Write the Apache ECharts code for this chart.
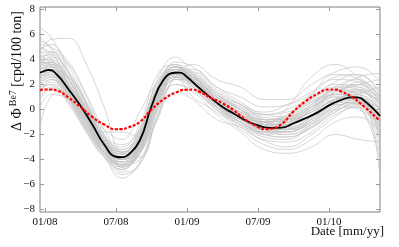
<!DOCTYPE html>
<html><head><meta charset="utf-8">
<script src="https://cdn.jsdelivr.net/npm/echarts@6/dist/echarts.min.js"></script>
<style>html,body{margin:0;padding:0;background:#fff}#c{width:399px;height:247px}</style>
</head><body><div id="c"></div>
<script>
// x values are months since 01/2008
const tickMonths = [0, 6, 12, 18, 24];
const tickLabels = ['01/08', '07/08', '01/09', '07/09', '01/10'];
const yTicks = [-8, -6, -4, -2, 0, 2, 4, 6, 8];

const blackMonths = [-0.42, 0, 0.3, 1, 2, 3, 4, 5, 6, 6.5, 7, 8, 9, 10, 11, 11.4, 12, 13, 14, 15, 16, 17, 18, 19, 20, 21, 22, 23, 24, 25, 26, 26.5, 27, 28, 28.3];
const blackValues = [2.94, 3.1, 3.16, 2.8, 1.6, 0.3, -1.2, -2.8, -3.78, -3.82, -3.65, -2.5, 0.26, 2.36, 2.94, 2.95, 2.6, 1.75, 0.95, 0.2, -0.36, -0.9, -1.27, -1.47, -1.45, -1.1, -0.7, -0.25, 0.33, 0.76, 0.98, 0.95, 0.68, -0.2, -0.52];

const redMonths = [-0.42, 0, 0.5, 1, 2, 3, 4, 5, 6, 6.5, 7, 8, 9, 10, 11, 12, 12.5, 13, 14, 15, 16, 17, 18, 18.5, 19, 20, 21, 22, 23, 24, 24.5, 25, 26, 27, 28, 28.3];
const redValues = [1.55, 1.6, 1.6, 1.52, 0.95, 0.2, -0.6, -1.2, -1.58, -1.57, -1.45, -1.0, 0.0, 0.8, 1.34, 1.58, 1.58, 1.45, 0.95, 0.5, -0.1, -0.85, -1.4, -1.58, -1.55, -1.15, -0.15, 0.65, 1.25, 1.6, 1.6, 1.45, 0.95, 0.2, -0.65, -0.9];

const grayMonths = [-0.42, 0.5, 2, 3.5, 5, 6.5, 8, 9.5, 11, 12.5, 14.5, 16.5, 18.5, 20.5, 22.5, 24.5, 26.5, 28.3];
const gray01 = [6.5, 5.8, 3.0, -0.5, -3.5, -4.8, -2.8, 1.8, 3.6, 2.8, 0.8, -0.6, -1.6, -1.8, -0.8, 0.6, 1.5, 0.2];
const gray02 = [-1.4, 1.0, 1.5, 0.2, -1.8, -1.8, -2.2, 0.6, 2.4, 2.2, 0.8, -0.2, -0.8, -0.6, 0.2, 1.0, 0.8, -2.0];
const gray03 = [4.5, 5.6, 5.7, 3.6, 0.2, -3.5, -3.8, -0.5, 2.6, 3.0, 1.6, 0.4, -0.8, -1.5, -1.0, 0.8, 2.2, 1.5];
const gray04 = [3.5, 3.8, 2.0, -0.8, -3.2, -4.5, -3.2, 1.0, 3.2, 2.4, 0.4, -1.0, -2.0, -2.2, -1.5, -0.2, 0.5, -1.0];
const gray05 = [1.5, 2.2, 0.8, -1.2, -3.0, -3.5, -1.5, 2.0, 3.2, 2.0, 0.2, -1.2, -1.8, -1.2, 0.2, 1.5, 1.2, -0.8];
const gray06 = [5.0, 4.5, 2.5, -0.2, -2.8, -4.2, -3.6, 0.2, 3.0, 3.2, 1.8, 0.6, -0.4, -0.6, 0.4, 1.8, 2.4, 1.0];
const gray07 = [2.5, 3.0, 1.0, -1.5, -3.6, -5.2, -4.4, -0.8, 1.4, 0.8, -0.8, -1.4, -2.5, -3.0, -2.0, -0.6, 0.4, -1.5];
const gray08 = [3.2, 3.4, 2.2, 0.0, -2.4, -3.4, -2.0, 1.8, 3.4, 2.4, 0.8, -0.4, -1.0, -0.4, 0.8, 1.8, 1.6, 0.0];
const gray09 = [4.0, 3.5, 1.0, -1.8, -3.8, -4.4, -2.6, 1.5, 3.0, 1.8, 0.0, -1.2, -2.2, -2.4, -1.2, 0.2, 0.6, -2.5];
const gray10 = [2.0, 2.6, 1.8, -0.2, -2.2, -2.8, -1.6, 1.6, 2.6, 2.0, 0.6, -0.4, -1.0, -0.8, 0.0, 0.8, 0.6, -0.4];
const gray11 = [5.5, 5.0, 3.0, 0.5, -2.2, -4.0, -3.0, 1.0, 3.8, 3.4, 1.8, 1.0, 0.2, 0.4, 1.2, 2.6, 2.8, 1.2];
const gray12 = [3.0, 2.8, 0.6, -1.6, -3.4, -4.0, -2.2, 1.6, 3.0, 2.0, 0.4, -0.8, -1.4, -1.0, -0.2, 0.8, 1.0, -0.4];
const gray13 = [0.8, 1.6, 1.2, 0.0, -1.6, -2.4, -0.2, 2.2, 3.4, 2.6, 1.0, 0.0, -0.6, -0.8, -0.2, 0.6, 0.2, -3.5];
const gray14 = [4.2, 4.4, 2.8, 0.4, -2.4, -4.4, -4.0, -0.2, 2.4, 2.4, 1.0, 0.0, -1.0, -1.6, -1.2, 0.0, 1.2, 1.8];
const gray15 = [3.8, 3.4, 1.2, -1.0, -3.0, -3.8, -2.4, 1.2, 3.0, 2.2, 0.4, -0.8, -1.6, -1.6, -0.6, 0.6, 1.0, -0.6];
const gray16 = [2.6, 3.2, 2.6, 0.6, -2.0, -3.6, -3.0, 0.4, 2.8, 2.8, 1.2, 0.2, -0.8, -1.0, 0.0, 1.4, 2.0, 0.6];
const gray17 = [3.4, 3.0, 1.0, -1.0, -3.4, -4.6, -3.4, 0.6, 2.6, 1.0, -0.2, -1.6, -2.8, -3.2, -2.4, -1.0, -0.6, -1.8];
const gray18 = [5.8, 4.8, 2.0, -1.2, -3.6, -4.2, -2.0, 2.4, 4.2, 2.8, 0.6, -0.6, -1.4, -0.8, 0.6, 1.6, 1.2, -0.6];
const gray19 = [1.2, 2.4, 1.6, -0.6, -2.6, -3.2, -1.8, 1.4, 2.8, 2.4, 1.0, 0.2, -0.4, 0.0, 1.0, 2.0, 1.8, 0.4];
const gray20 = [4.6, 4.0, 1.6, -0.8, -3.0, -4.0, -2.8, 1.0, 3.2, 2.6, 0.8, -0.4, -1.2, -1.4, -0.8, 0.4, 1.0, 0.0];
const gray21 = [3.6, 3.8, 1.8, -0.6, -3.0, -5.0, -4.4, -0.6, 2.0, 1.6, 0.2, -1.0, -2.0, -2.2, -1.4, 0.0, 0.8, -1.0];
const gray22 = [2.2, 2.8, 1.4, -0.4, -2.6, -3.4, -1.6, 2.2, 3.6, 2.4, 0.4, -0.8, -1.4, -0.6, 1.2, 2.8, 2.4, 0.8];
const gray23 = [4.8, 5.2, 3.4, 0.6, -2.6, -4.6, -3.6, 0.8, 3.4, 3.0, 1.4, 0.0, -1.2, -1.8, -1.0, 0.4, 1.6, 1.0];
const gray24 = [3.0, 3.2, 1.4, -0.8, -3.2, -4.0, -2.6, 1.2, 3.0, 2.0, 0.2, -1.0, -1.8, -1.8, -0.8, 0.6, 0.8, -5.6];
const gray25 = [2.8, 2.6, 0.8, -1.4, -3.4, -4.4, -3.0, 0.8, 2.6, 1.6, 0.0, -1.2, -2.0, -1.6, -0.6, 0.6, 1.4, 0.6];
const gray26 = [3.6, 4.2, 3.0, 0.4, -2.6, -4.0, -3.2, 0.6, 3.0, 2.6, 1.0, -0.2, -1.0, -0.6, 0.6, 1.6, 2.6, 2.9];
const gray27 = [1.8, 2.0, 0.4, -1.8, -3.8, -5.5, -4.2, -0.6, 2.0, 1.4, -0.4, -1.8, -3.2, -3.5, -3.0, -2.0, -2.4, -2.6];
const gray28 = [4.4, 3.6, 1.2, -1.2, -3.2, -4.0, -2.2, 1.6, 3.4, 2.4, 0.6, -0.6, -1.2, 0.2, 2.6, 3.6, 2.6, 1.0];
const gray29 = [3.2, 3.6, 2.4, 0.2, -2.4, -3.8, -2.8, 1.0, 3.2, 2.8, 1.2, 0.0, -1.0, -1.2, -0.4, 0.8, 1.2, -0.2];
const gray30 = [2.4, 2.8, 1.6, -0.2, -2.6, -3.8, -2.6, 1.4, 3.0, 2.2, 0.6, -0.6, -1.4, -1.2, -0.2, 1.0, 0.8, -1.2];
const gray31 = [5.2, 5.0, 3.8, 1.2, -1.6, -3.4, -3.2, 0.0, 2.6, 3.6, 2.4, 1.8, 0.8, 0.8, 2.0, 3.0, 3.4, 2.2];
const gray32 = [0.2, 1.2, 0.8, -0.8, -2.4, -3.0, -1.2, 2.8, 3.6, 2.2, 0.2, -1.0, -1.6, -1.0, 0.4, 1.2, 0.4, -4.0];
const gray33 = [3.0, 3.4, 2.0, -0.2, -2.6, -3.6, -2.4, 1.4, 3.0, 2.4, 0.8, -0.4, -1.2, -1.0, -0.2, 0.8, 1.2, 0.0];
const gray34 = [2.2, 2.6, 1.2, -0.8, -3.0, -4.2, -3.0, 0.8, 2.6, 2.0, 0.4, -0.8, -1.6, -1.8, -1.0, 0.2, 0.6, -1.4];
const gray35 = [4.2, 3.8, 1.8, -0.6, -3.2, -4.2, -2.6, 1.4, 3.2, 2.4, 0.6, -0.6, -1.4, -1.2, 0.0, 1.2, 1.6, 0.4];
const gray36 = [3.4, 4.6, 3.6, 1.0, -2.0, -3.8, -3.4, 0.0, 2.6, 2.6, 1.4, 0.4, -0.4, -0.2, 0.8, 2.2, 2.8, 1.4];
const gray37 = [1.6, 2.0, 0.6, -1.4, -3.4, -4.6, -3.2, 0.6, 2.8, 1.8, 0.0, -1.4, -2.4, -2.6, -1.8, -0.4, 0.2, -3.0];
const gray38 = [5.0, 4.2, 1.4, -1.6, -3.8, -4.8, -3.0, 1.2, 3.4, 2.2, 0.2, -1.0, -1.8, -1.4, 0.0, 1.4, 1.8, 0.8];
const gray39 = [2.6, 3.0, 1.8, -0.4, -2.8, -3.8, -2.4, 1.6, 3.2, 2.4, 0.8, -0.2, -1.0, -0.8, 0.4, 1.6, 2.0, 1.2];
const gray40 = [3.8, 3.6, 1.4, -1.0, -3.4, -4.4, -2.8, 1.0, 2.8, 2.0, 0.4, -0.8, -1.6, -1.4, -0.4, 0.6, 0.4, -1.6];
const gray41 = [2.8, 3.6, 2.6, 0.2, -2.2, -3.2, -1.8, 1.8, 3.2, 2.6, 1.2, 0.4, -0.2, 0.4, 1.4, 2.4, 2.2, 0.4];
const gray42 = [4.6, 4.6, 2.4, -0.4, -3.0, -4.4, -3.2, 0.6, 3.0, 2.6, 1.0, -0.2, -1.2, -1.6, -0.8, 0.6, 1.4, 0.6];
const gray43 = [1.0, 1.8, 1.0, -0.8, -2.8, -3.8, -2.4, 1.2, 3.0, 2.2, 0.4, -1.0, -1.8, -2.0, -1.2, 0.0, 0.2, -2.2];
const gray44 = [3.6, 3.2, 1.0, -1.2, -3.6, -4.8, -3.4, 0.4, 2.6, 2.0, 0.6, -0.4, -1.0, -0.4, 0.6, 1.2, 0.8, -0.8];
const gray45 = [2.0, 2.4, 1.2, -0.6, -2.6, -3.6, -2.0, 1.6, 3.4, 2.6, 0.8, -0.6, -1.6, -2.0, -1.4, -0.2, 0.6, 0.2];
const gray46 = [3.2, 3.8, 2.4, 0.0, -2.6, -4.0, -3.0, 1.0, 3.4, 2.8, 1.2, 0.0, -0.8, -0.8, 0.2, 1.2, 1.0, -2.0];
const gray47 = [4.0, 4.0, 2.0, -0.6, -3.2, -4.6, -3.4, 0.2, 2.4, 1.8, 0.4, -0.6, -1.2, -1.0, 0.2, 1.4, 2.0, 2.4];
const gray48 = [2.4, 3.2, 2.0, -0.2, -2.4, -3.4, -2.2, 1.2, 2.8, 2.2, 0.6, -0.6, -1.4, -1.6, -0.6, 0.4, 0.0, -1.0];

const grayCurves = [gray01, gray02, gray03, gray04, gray05, gray06, gray07, gray08, gray09, gray10,
  gray11, gray12, gray13, gray14, gray15, gray16, gray17, gray18, gray19, gray20,
  gray21, gray22, gray23, gray24, gray25, gray26, gray27, gray28, gray29, gray30, gray31, gray32,
  gray33, gray34, gray35, gray36, gray37, gray38, gray39, gray40, gray41, gray42, gray43, gray44,
  gray45, gray46, gray47, gray48];

const serif = '"Liberation Serif", "DejaVu Serif", serif';
const chart = echarts.init(document.getElementById('c'), null, { renderer: 'canvas' });

const pair = (xs, ys) => xs.map((x, i) => [x, ys[i]]);

const series = [];
grayCurves.forEach((g) => {
  series.push({
    type: 'line', data: pair(grayMonths, g), smooth: 0.45, symbol: 'none', silent: true,
    lineStyle: { color: '#c6c6c6', width: 0.7 }, z: 1
  });
});
series.push({
  type: 'line', data: pair(blackMonths, blackValues), smooth: true, symbol: 'none', silent: true,
  lineStyle: { color: '#000', width: 1.8 }, z: 3
});
series.push({
  type: 'line', data: pair(redMonths, redValues), smooth: true, symbol: 'none', silent: true,
  lineStyle: { color: '#ff0000', width: 2.2, type: [3, 1.6] }, z: 4
});

const xBase = {
  type: 'value', min: -0.42, max: 28.3,
  splitLine: { show: false }, axisLine: { show: false, onZero: false },
  axisTick: { inside: true, length: 4, lineStyle: { color: '#999' }, customValues: tickMonths }
};
const yBase = {
  type: 'value', min: -8.2, max: 8.2,
  splitLine: { show: false }, axisLine: { show: false, onZero: false },
  axisTick: { inside: true, length: 4, lineStyle: { color: '#999' }, customValues: yTicks }
};

chart.setOption({
  animation: false,
  backgroundColor: '#fff',
  grid: { left: 40, top: 7, right: 19, bottom: 35, show: true, borderColor: '#808080', borderWidth: 1 },
  xAxis: [
    Object.assign({}, xBase, {
      position: 'bottom',
      axisLabel: {
        customValues: tickMonths, margin: 5, color: '#111', fontFamily: serif, fontSize: 11,
        formatter: v => tickLabels[tickMonths.indexOf(Math.round(v))] || ''
      }
    }),
    Object.assign({}, xBase, { position: 'top', axisLabel: { show: false } })
  ],
  yAxis: [
    Object.assign({}, yBase, {
      position: 'left',
      axisLabel: {
        customValues: yTicks, margin: 5, color: '#111', fontFamily: serif, fontSize: 11,
        formatter: v => String(v).replace('-', '\u2212')
      }
    }),
    Object.assign({}, yBase, { position: 'right', axisLabel: { show: false } })
  ],
  graphic: [
    {
      type: 'text', x: 16, y: 71, rotation: Math.PI / 2,
      style: {
        text: '{a|\u0394 \u03A6}{s|Be7} {a|[cpd/100 ton]}',
        align: 'center', verticalAlign: 'middle',
        rich: {
          a: { fontFamily: serif, fontSize: 14, fill: '#111', lineHeight: 16, verticalAlign: 'bottom' },
          s: { fontFamily: serif, fontSize: 10, fill: '#111', lineHeight: 16, verticalAlign: 'top', padding: [0, 0, 0, 2] }
        }
      }
    },
    {
      type: 'text', x: 384, y: 225,
      style: { text: 'Date [mm/yy]', align: 'right', verticalAlign: 'top', fontFamily: serif, fontSize: 13, fill: '#111' }
    }
  ],
  series: series
});
</script>
</body></html>
